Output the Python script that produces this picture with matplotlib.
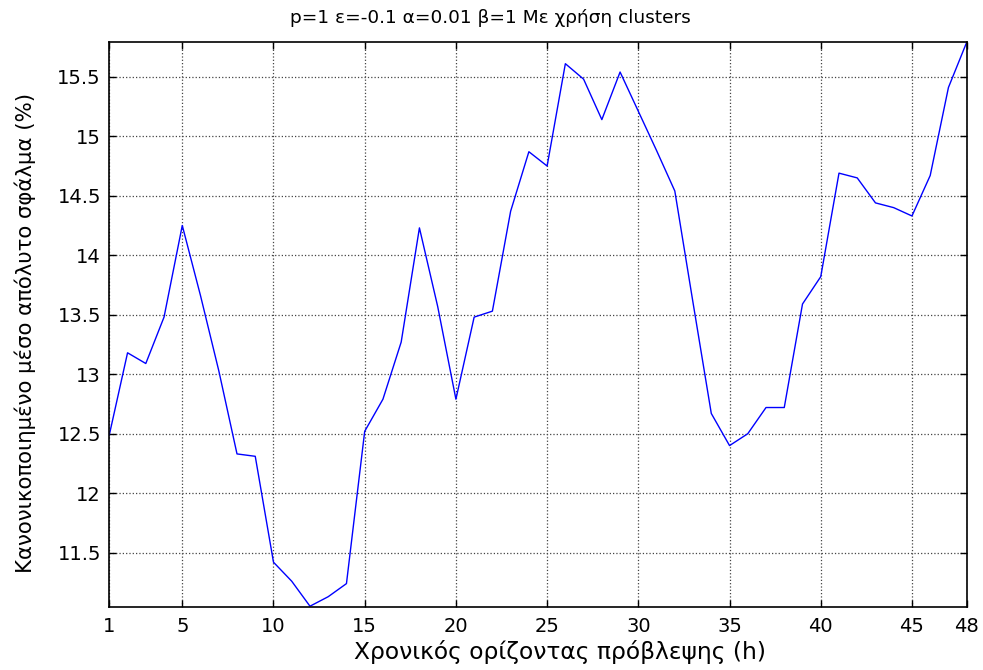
import numpy as np
import matplotlib
matplotlib.use('Agg')
import matplotlib.pyplot as plt

plt.rcParams['font.family'] = ['DejaVu Sans']

# horizon (h) and normalised MAE (%)
hours = np.arange(1, 49)
nmae = [12.49, 13.18, 13.09, 13.48, 14.25, 13.66, 13.03, 12.33, 12.31, 11.42,
        11.26, 11.05, 11.13, 11.24, 12.52, 12.79, 13.27, 14.23, 13.57, 12.79,
        13.48, 13.53, 14.37, 14.87, 14.75, 15.61, 15.48, 15.14, 15.54, 15.21,
        14.88, 14.54, 13.60, 12.67, 12.40, 12.50, 12.72, 12.72, 13.59, 13.82,
        14.69, 14.65, 14.44, 14.40, 14.33, 14.67, 15.41, 15.79]

xticks = [1, 5, 10, 15, 20, 25, 30, 35, 40, 45, 48]
yticks = [11.5, 12, 12.5, 13, 13.5, 14, 14.5, 15, 15.5]

W, H = 983, 670
fig = plt.figure(figsize=(W / 100, H / 100), dpi=100)
ax = fig.add_axes([0.1112, 0.0945, 0.8722, 0.8424])

ax.plot(hours, nmae, color='#0000ff', linewidth=1.0)

ax.set_xlim(1, 48)
ax.set_ylim(min(nmae) - 0.004, max(nmae))
ax.set_xticks(xticks)
ax.set_yticks(yticks)
ax.set_yticklabels([f'{v:g}' for v in yticks])
ax.tick_params(direction='in', top=True, right=True, labelsize=14, length=5, width=1)
ax.tick_params(axis='x', pad=7.5)
ax.tick_params(axis='y', pad=6)
ax.grid(True, color='#444444', linestyle=':', linewidth=0.9)
for s in ax.spines.values():
    s.set_linewidth(1.2)

fig.text(490 / W, 1 - 18 / H, 'p=1 ε=-0.1 α=0.01 β=1 Με χρήση clusters',
         fontsize=13.3, ha='center', va='center')
ax.set_xlabel('Χρονικός ορίζοντας πρόβλεψης (h)', fontsize=16.8)
ax.xaxis.label.set_va('center')
ax.xaxis.set_label_coords(0.5257, -0.0803)
ax.set_ylabel('Κανονικοποιημένο μέσο απόλυτο σφάλμα (%)', fontsize=15.3)
ax.yaxis.label.set_va('center')
ax.yaxis.set_label_coords(-0.0985, 0.485)

fig.savefig('out.png', dpi=100)
